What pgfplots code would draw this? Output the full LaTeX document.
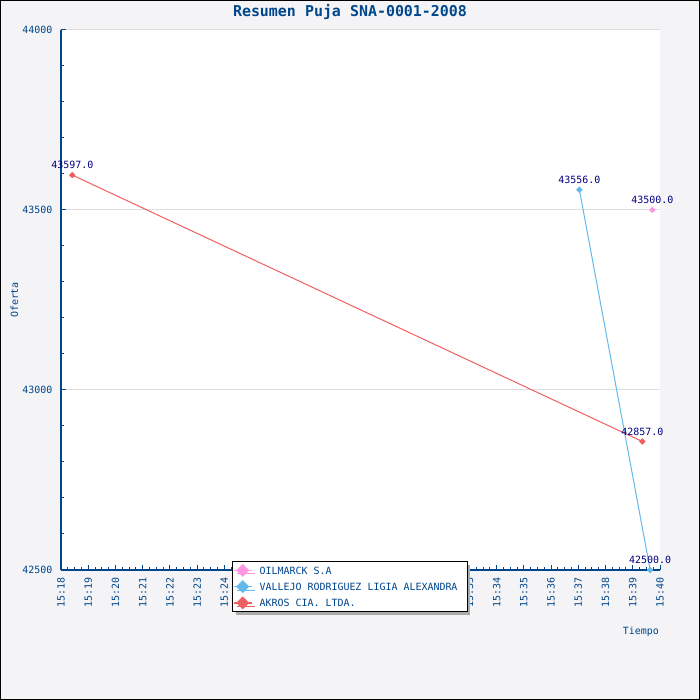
\documentclass[border=0pt]{standalone}
\usepackage{pgfplots}
\pgfplotsset{compat=1.18}
\usepackage{fontspec}
\setmainfont{DejaVu Sans Mono}
\usetikzlibrary{shadows}
\newcommand{\msp}{\hspace*{6.02bp}}
\definecolor{bgc}{RGB}{244,244,246}
\definecolor{axblue}{RGB}{0,70,140}
\definecolor{navyc}{RGB}{0,0,128}
\definecolor{redc}{RGB}{240,96,96}
\definecolor{bluec}{RGB}{100,185,235}
\definecolor{pinkc}{RGB}{255,150,225}
\definecolor{gridc}{RGB}{221,221,221}
\begin{document}
\begin{tikzpicture}
\fill[bgc] (0,0) rectangle (700bp,700bp);
\draw[black, line width=1bp] (0.5bp,0.5bp) rectangle (699.5bp,699.5bp);
\node[anchor=base, text=axblue, font=\fontsize{15}{18}\selectfont\bfseries, inner sep=0] at (350bp,683bp) {Resumen\hspace*{9.03bp}Puja\hspace*{9.03bp}SNA-0001-2008};
\begin{axis}[
  at={(61bp,130bp)}, anchor=south west,
  scale only axis, width=599bp, height=540bp,
  xmin=18, xmax=40, ymin=42500, ymax=44000,
  enlargelimits=false,
  scaled y ticks=false, scaled x ticks=false,
  axis x line*=bottom, axis y line*=left,
  axis line style={axblue, line width=1.3bp, -},
  axis background/.style={fill=white},
  clip=false,
  xtick={18,19,20,21,22,23,24,25,26,27,28,29,30,31,32,33,34,35,36,37,38,39,40},
  xticklabels={15:18,15:19,15:20,15:21,15:22,15:23,15:24,15:25,15:26,15:27,15:28,15:29,15:30,15:31,15:32,15:33,15:34,15:35,15:36,15:37,15:38,15:39,15:40},
  ytick={42500,43000,43500,44000},
  yticklabels={42500,43000,43500,44000},
  minor x tick num=3, minor y tick num=4,
  tick align=inside,
  major tick length=5bp, minor tick length=3bp,
  tick style={axblue, line width=1bp},
  ymajorgrids, major grid style={gridc, line width=1bp},
  tick label style={font=\fontsize{10}{12}\selectfont, text=axblue},
  xticklabel style={yshift=-7.5bp, rotate=90, anchor=east, inner sep=0},
  yticklabel style={xshift=-8.5bp, anchor=east, inner sep=0},
  every axis y label/.style={at={(rel axis cs:0,0.5)}, xshift=-46.5bp, rotate=90, anchor=center, inner sep=0, text=axblue, font=\fontsize{10}{12}\selectfont},
  every axis x label/.style={at={(rel axis cs:1,0)}, yshift=-57bp, xshift=-1bp, anchor=north east, inner sep=0, text=axblue, font=\fontsize{10}{12}\selectfont},
  ylabel={Oferta}, xlabel={Tiempo},
  every node near coord/.append style={anchor=center, yshift=10bp, inner sep=0, text=navyc, font=\fontsize{10}{12}\selectfont},
  legend cell align=left,
  legend style={at={(rel axis cs:0.2855,0.01667)}, anchor=north west, draw=black, line width=1bp, fill=white,
    font=\fontsize{10}{12}\selectfont, inner xsep=0.5bp, inner ysep=3.5bp, row sep=5.5bp, column sep=7bp,
    nodes={inner sep=0pt, text height=7.3bp, text depth=0bp, text=axblue},
    drop shadow={shadow xshift=3bp, shadow yshift=-3.5bp, fill=black!33, opacity=1}},
  legend image code/.code={\draw[#1, line width=1.5bp, mark size=3.8bp, mark repeat=2, mark phase=2] plot coordinates {(0bp,0bp) (9bp,0bp) (18bp,0bp)};},
]
\addplot[pinkc, line width=1bp, mark=square*, mark options={rotate=45}, mark size=1.8bp, nodes near coords, point meta=explicit symbolic]
  coordinates {(39.72,43500) [43500.0]};
\addlegendentry{OILMARCK\msp S.A}
\addplot[bluec, line width=1bp, mark=square*, mark options={rotate=45}, mark size=1.8bp, nodes near coords, point meta=explicit symbolic]
  coordinates {(37.04,43556) [43556.0] (39.64,42500) [42500.0]};
\addlegendentry{VALLEJO\msp RODRIGUEZ\msp LIGIA\msp ALEXANDRA\hspace*{9bp}}
\addplot[redc, line width=1bp, mark=square*, mark options={rotate=45}, mark size=1.8bp, nodes near coords, point meta=explicit symbolic]
  coordinates {(18.415,43597) [43597.0] (39.35,42857) [42857.0]};
\addlegendentry{AKROS\msp CIA.\msp LTDA.}
\end{axis}
\pgfresetboundingbox
\path (0,0) rectangle (700bp,700bp);
\end{tikzpicture}
\end{document}
